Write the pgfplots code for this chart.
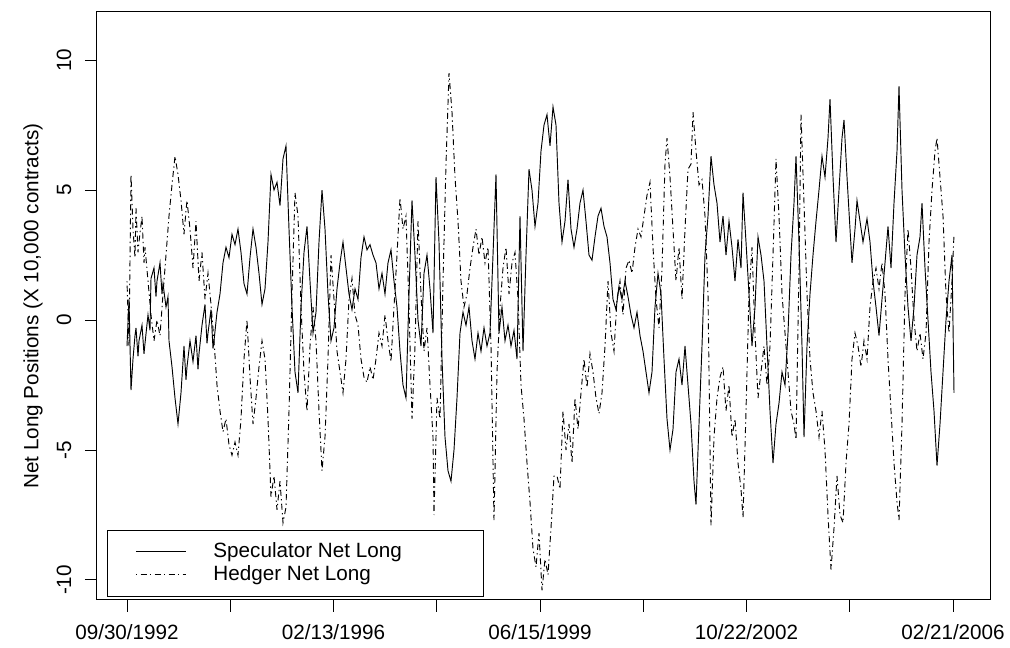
\documentclass[border=0pt]{standalone}
\usepackage{fontspec}
\setmainfont{Liberation Sans}
\usepackage{pgfplots}
\pgfplotsset{compat=1.18}
\usepackage{pgfplotstable}

% Weekly net long positions (x 10,000 contracts); t runs along the sample
\pgfplotstableread{
t v
127 -1.0
129 0.8
131 -2.7
133 -1.5
135 -0.6
136 -0.3
138 -1.4
139 -0.8
142 -0.2
144 -1.3
145 -0.9
148 0.2
150 -0.4
151 1.6
154 2.0
156 0.9
157 1.5
160 2.2
162 1.0
163 1.4
166 0.5
168 0.9
169 -0.8
172 -1.8
175 -3.0
178 -4.0
181 -2.8
184 -1.0
186 -2.3
187 -1.8
190 -0.8
193 -1.6
196 -0.6
198 -1.9
199 -1.3
202 -0.2
205 0.6
207 -0.9
208 -0.5
211 0.4
213 -1.1
214 -0.8
217 0.3
220 1.0
223 2.2
226 2.8
229 2.4
232 3.3
235 2.9
238 3.5
241 2.6
244 1.4
247 1.0
250 2.4
253 3.5
256 2.8
259 1.8
262 0.6
265 1.2
268 3.0
271 5.6
274 5.0
277 5.3
280 4.4
283 6.2
286 6.7
289 3.5
292 0.5
295 -2.0
298 -2.8
301 0.5
304 2.6
307 3.6
310 1.5
313 -0.5
316 0.3
319 3.0
322 5.0
325 3.5
328 1.0
331 -0.8
334 -0.3
337 1.2
340 2.2
343 3.0
346 2.0
349 1.0
352 0.4
355 1.2
358 0.8
361 2.4
364 3.2
367 2.7
370 2.9
373 2.5
376 2.2
379 1.2
382 1.8
385 1.0
388 2.2
391 2.7
394 1.5
397 0.5
400 -1.2
403 -2.5
406 -3.0
409 1.0
412 4.6
415 2.5
418 0.0
421 -1.0
424 1.8
427 2.5
430 1.2
433 -0.5
436 5.5
439 3.0
442 -1.5
445 -4.5
448 -5.8
451 -6.2
454 -5.0
457 -3.0
460 -0.5
463 0.3
466 -0.2
469 0.5
472 -0.8
475 -1.5
478 -0.5
481 -1.2
484 -0.3
487 -1.0
490 -0.5
493 2.5
496 5.6
499 -0.5
502 0.5
505 -0.8
508 -0.2
511 -1.0
514 -0.4
517 -1.5
520 4.0
523 -1.2
526 2.5
529 5.8
532 5.0
535 3.6
538 4.5
541 6.5
544 7.5
547 7.9
550 6.7
553 8.2
556 7.5
559 4.5
562 3.0
565 3.8
568 5.4
571 3.5
574 2.8
577 3.5
580 4.5
583 5.0
586 3.8
589 2.5
592 2.3
595 3.2
598 4.0
601 4.3
604 3.6
607 3.2
610 2.2
613 0.8
616 0.4
619 1.3
622 0.8
625 1.5
628 0.9
631 0.2
634 -0.3
637 0.3
640 -0.6
643 -1.2
646 -2.0
649 -2.8
652 -2.0
655 0.5
658 1.8
661 1.0
664 -1.5
667 -3.8
670 -5.0
673 -4.2
676 -2.0
679 -1.5
682 -2.5
685 -1.0
688 -2.5
691 -4.0
694 -6.2
696 -7.1
699 -4.0
702 -1.0
705 2.5
708 4.0
711 6.3
714 5.2
717 4.5
720 3.0
723 4.0
726 2.5
729 3.8
732 2.8
735 1.5
738 3.1
741 2.0
743 4.9
746 3.0
749 1.0
752 -1.0
755 0.5
758 3.2
761 2.5
764 1.5
767 -1.0
770 -3.5
773 -5.5
776 -4.0
779 -3.2
782 -2.0
785 -2.5
788 -0.5
791 2.5
794 4.5
796 6.3
799 3.0
802 -1.0
804 -4.5
807 -1.0
810 1.0
813 2.5
816 3.8
819 5.0
822 6.3
825 5.5
828 7.0
830 8.5
833 5.5
836 3.0
839 5.0
842 7.0
844 7.7
847 5.5
850 3.5
852 2.2
855 3.5
857 4.6
860 3.8
863 3.0
867 3.9
870 3.0
873 1.5
876 0.5
879 -0.6
882 0.8
885 2.2
888 3.6
891 2.0
894 4.5
897 6.5
899 9.0
902 5.0
905 2.5
908 0.5
911 -0.8
914 0.5
917 2.5
920 3.2
922 4.5
925 2.0
928 0.0
931 -2.0
934 -3.5
937 -5.6
940 -4.0
943 -2.0
946 0.0
949 1.5
952 2.5
954 -2.8
}\speculator

\pgfplotstableread{
t v
127 1.5
129 -1.0
131 5.6
133 3.5
135 2.4
136 4.3
138 2.6
139 3.0
142 4.0
144 2.2
145 2.8
148 1.5
151 0.2
154 -0.8
157 0.0
160 -0.6
163 1.0
166 2.5
169 4.0
172 5.2
175 6.3
178 5.6
181 4.6
184 3.3
186 4.2
187 4.6
190 3.5
193 2.0
196 3.8
199 1.5
202 2.6
205 0.8
208 1.8
211 0.6
214 -0.8
217 -2.5
220 -3.5
223 -4.3
226 -3.8
229 -4.8
232 -5.2
235 -4.7
238 -5.2
241 -3.8
244 -1.5
247 0.0
250 -2.2
253 -4.0
256 -3.0
259 -1.8
262 -0.8
265 -1.5
268 -3.8
271 -6.8
274 -6.0
277 -7.3
280 -6.2
283 -7.8
286 -7.2
289 -3.5
292 1.0
295 4.9
298 4.0
301 0.5
304 -2.0
307 -3.5
310 -1.0
313 0.5
316 -0.8
319 -3.5
322 -5.8
325 -4.5
328 -1.5
331 2.5
334 0.8
337 -1.2
340 -2.0
343 -2.8
346 -1.5
349 0.8
352 1.6
355 0.2
358 -0.2
361 -1.5
364 -2.2
367 -2.4
370 -1.8
373 -2.3
376 -1.5
379 -0.5
382 -1.0
385 0.2
388 -0.8
391 -1.6
394 0.5
397 2.5
400 4.7
403 3.5
406 4.0
409 0.5
412 -3.8
415 -1.0
418 3.8
421 1.0
424 -1.2
427 -0.3
430 -2.5
433 -4.5
434 -7.5
437 -3.0
440 -3.8
443 1.5
446 6.0
449 9.5
452 8.0
455 5.5
458 3.8
461 1.5
464 0.5
467 1.0
470 2.0
473 2.8
476 3.5
479 2.5
482 3.2
485 2.2
488 2.8
491 -1.0
494 -7.7
497 -2.0
500 0.5
503 2.0
506 2.8
509 1.0
512 2.2
515 2.6
518 0.8
521 -2.5
524 -3.8
527 -5.5
530 -7.0
533 -8.8
536 -9.5
539 -8.2
542 -10.4
545 -9.2
548 -9.8
551 -8.0
554 -6.0
557 -6.0
560 -6.5
563 -3.5
566 -5.0
569 -4.0
572 -5.5
575 -3.0
578 -4.2
581 -2.8
584 -1.5
587 -2.6
590 -1.3
593 -2.0
596 -3.0
599 -3.6
602 -2.8
605 -1.0
608 1.5
611 -0.5
614 -1.2
617 0.8
620 1.5
623 0.2
626 2.0
629 2.3
632 1.8
635 2.8
638 3.5
641 3.2
644 4.0
647 4.8
650 5.3
653 2.8
656 0.8
659 -0.3
662 2.0
665 6.0
667 7.0
670 5.5
673 3.5
676 1.5
679 2.8
682 0.8
685 3.5
688 5.8
691 6.0
693 8.0
696 6.5
699 5.2
702 5.4
705 4.0
708 1.0
711 -7.9
714 -4.5
717 -3.0
720 -2.2
723 -1.8
726 -3.5
729 -2.5
732 -4.5
735 -3.8
738 -5.5
741 -6.5
743 -7.6
746 -3.5
749 1.0
752 2.8
755 -0.5
758 -3.0
761 -2.0
764 -1.0
767 -2.5
770 -1.0
773 2.5
776 6.2
779 4.0
782 1.0
785 -0.5
788 -2.0
791 -3.5
794 -4.0
796 -4.6
799 2.0
801 7.9
804 4.5
807 1.0
810 -1.5
813 -2.8
816 -3.5
819 -4.5
822 -3.5
825 -5.0
828 -7.5
831 -9.6
834 -8.0
837 -6.0
840 -7.5
843 -7.8
846 -5.5
849 -4.0
852 -1.5
855 -0.5
858 -1.0
861 -1.8
864 -0.8
867 -1.5
870 0.5
873 1.5
876 2.0
879 1.2
882 2.2
885 1.0
888 -1.5
891 -3.5
894 -5.5
897 -7.0
899 -7.7
902 -4.0
905 1.0
908 3.5
911 2.0
914 0.0
917 -1.2
920 -0.5
923 -1.5
926 -0.5
929 3.0
932 5.0
935 6.5
937 7.0
940 5.5
943 4.0
946 1.0
949 -0.5
952 1.5
954 3.3
}\hedger

\begin{document}
\begin{tikzpicture}
\path[use as bounding box] (0,0) rectangle (757.5pt,486pt);
\begin{axis}[
  at={(72.75pt,36pt)}, anchor=south west,
  scale only axis, width=669.75pt, height=441pt,
  xmin=97, xmax=990, ymin=-10.77, ymax=11.85,
  axis line style={line width=0.75pt},
  tick style={line width=0.75pt, black},
  tick align=outside, major tick length=9pt,
  xtick pos=bottom, ytick pos=left,
  xtick={127,230.25,333.5,436.75,540,643.25,746.5,849.75,953},
  xticklabels={09/30/1992,,02/13/1996,,06/15/1999,,10/22/2002,,02/21/2006},
  ytick={-10,-5,0,5,10},
  yticklabels={-10,-5,0,5,10},
  ticklabel style={font=\fontsize{15.5}{18}\selectfont, inner sep=0pt},
  xticklabel style={anchor=north, yshift=-9pt},
  yticklabel style={anchor=south, rotate=90, yshift=10pt},
  ylabel={Net Long Positions (X 10,000 contracts)},
  ylabel style={font=\fontsize{15.5}{18}\selectfont, at={(axis description cs:-0.0717,0.5)}, anchor=center, rotate=0},
  legend cell align=left,
  legend image code/.code={\draw[#1] (0pt,0pt) -- (37.5pt,0pt);},
  legend style={
    at={(axis description cs:0.0112,0.0051)}, anchor=south west,
    draw=black, line width=0.75pt,
    inner xsep=21pt, inner ysep=9.3pt,
    font=\fontsize{15.5}{18}\selectfont,
    nodes={inner sep=0pt, text height=11.2pt, text depth=2.8pt},
    row sep=3.2pt, column sep=20.25pt,
  },
]
\addplot[black, line width=0.7pt] table[x=t, y=v] {\speculator};
\addlegendentry{\makebox[181.5pt][l]{Speculator Net Long}}
\addplot[black, line width=0.7pt, dash pattern=on 1pt off 2.5pt on 4.5pt off 2.5pt] table[x=t, y=v] {\hedger};
\addlegendentry{\makebox[181.5pt][l]{Hedger Net Long}}
\end{axis}
\end{tikzpicture}
\end{document}
